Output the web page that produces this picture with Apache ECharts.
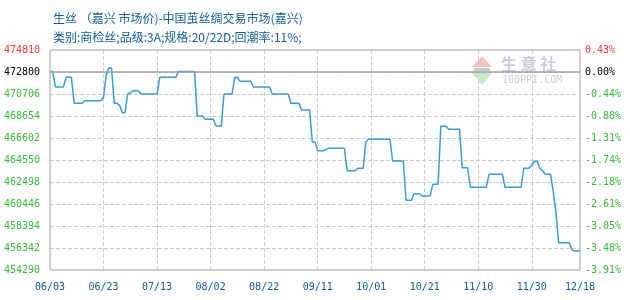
<!DOCTYPE html>
<html>
<head>
<meta charset="utf-8">
<script src="https://cdn.jsdelivr.net/npm/echarts@6/dist/echarts.min.js"></script>
<style>
html,body{margin:0;padding:0;background:#fff;}
#chart{width:630px;height:300px;}
</style>
</head>
<body>
<div id="chart"></div>
<script>
// ---- data ----
var titleLine1 = '生丝 （嘉兴 市场价)-中国茧丝绸交易市场(嘉兴)';
var titleLine2 = '类别:商检丝;品级:3A;规格:20/22D;回潮率:11%;';
var startDate = [2019, 6, 3];   // first category (month/day shown)
var dayCount = 199;              // 06/03 .. 12/18
var xTickLabels = ['06/03','06/23','07/13','08/02','08/22','09/11','10/01','10/21','11/10','11/30','12/18'];
var leftTickLabels = ['474810','472800','470706','468654','466602','464550','462498','460446','458394','456342','454290'];
var rightTickLabels = ['0.43%','0.00%','-0.44%','-0.88%','-1.31%','-1.74%','-2.18%','-2.61%','-3.05%','-3.48%','-3.91%'];
var basePrice = 472800;
var yMin = 454290, yMax = 474810, yInterval = 2052;
var prices = [
472800,472800,471360,471360,471360,471360,472260,472260,472260,469840,
469840,469840,469840,470080,470080,470080,470080,470080,470080,470080,
470400,472450,473130,473130,469840,469840,469650,468960,468960,470700,
470800,471010,471010,471010,470706,470706,470706,470706,470706,470706,
470706,472260,472260,472260,472260,472260,472260,472260,472800,472800,
472800,472800,472800,472800,472800,468654,468654,468654,468346,468346,
468346,468346,467721,467721,467721,470706,470706,470706,470706,472260,
472260,471890,471890,471890,471890,471890,471360,471360,471360,471360,
471360,471360,471360,470706,470706,470706,470706,470706,470706,470706,
469840,469840,469840,469840,469214,469214,469214,469214,466229,466229,
465417,465417,465417,465500,465641,465641,465641,465641,465641,465641,
465641,463552,463552,463552,463552,463776,463776,463776,466257,466481,
466481,466481,466481,466481,466481,466481,466481,466481,464457,464457,
464457,464457,464457,460791,460791,460791,461407,461407,461407,461192,
461192,461192,461192,462283,462283,462283,467693,467693,467693,467414,
467414,467414,467414,467414,463832,463832,463832,462010,462010,462010,
462010,462010,462010,462010,463216,463216,463216,463216,463216,463216,
462010,462010,462010,462010,462010,462010,462010,463776,463776,463776,
464084,464429,464429,463776,463552,463216,463216,463216,461600,459700,
456836,456836,456836,456836,456836,456155,456062,456062,456062
];

// ---- categories ----
var dates = [];
(function(){
  var d = new Date(startDate[0], startDate[1]-1, startDate[2]);
  for (var i = 0; i < dayCount; i++) {
    var m = d.getMonth()+1, dd = d.getDate();
    dates.push((m<10?'0':'')+m+'/'+(dd<10?'0':'')+dd);
    d.setDate(d.getDate()+1);
  }
})();

function tickIndex(v){ return 10 - Math.round((v - yMin)/yInterval); }
function showX(idx, val){ return xTickLabels.indexOf(dates[idx]) >= 0; }
function labelColor(v){
  var k = tickIndex(v);
  if (k === 0) return '#ff3333';
  if (k === 1) return '#000000';
  return '#33bb33';
}

var chart = echarts.init(document.getElementById('chart'), null, {renderer:'canvas'});
var mono = '"DejaVu Sans Mono", "Liberation Mono", monospace';
chart.setOption({
  animation:false,
  backgroundColor:'#ffffff',
  title:[
    {text:titleLine1, left:48, top:7, textStyle:{fontSize:12, fontWeight:'normal', color:'#125d94', fontFamily:'"Noto Sans CJK SC"'}},
    {text:titleLine2, left:48, top:26, textStyle:{fontSize:12, fontWeight:'normal', color:'#125d94', fontFamily:'"Noto Sans CJK SC"'}}
  ],
  grid:{left:50, right:50, top:50, bottom:30, show:true, borderColor:'#a0a0a0', borderWidth:1, backgroundColor:'#fff'},
  graphic:[
    {type:'polygon', shape:{points:[[472,67],[482,56],[492,67]]}, style:{fill:'#f5c2c2'}, z:1},
    {type:'rect', shape:{x:474,y:68,width:16,height:3}, style:{fill:'#c8c8d8'}, z:1},
    {type:'polygon', shape:{points:[[472,73],[492,73],[482,85]]}, style:{fill:'#c4ebc8'}, z:1},
    {type:'text', left:501, top:56, style:{text:'生 意 社', fill:'#c9cde2', font:'bold 16px "Noto Sans CJK SC"'}, z:1},
    {type:'text', left:502, top:75, style:{text:'100PPI.COM', fill:'#cfcfcf', font:'10px '+mono}, z:1}
  ],
  xAxis:{
    type:'category', data:dates, boundaryGap:false,
    axisLine:{show:false}, axisTick:{show:false},
    axisLabel:{interval:showX, color:'#0b5a91', fontSize:10, fontFamily:mono, margin:12, showMaxLabel:true},
    splitLine:{show:true, interval:showX, lineStyle:{color:'#cccccc', type:'dashed', width:1}}
  },
  yAxis:[
    {type:'value', min:yMin, max:yMax, interval:yInterval, position:'left',
     axisLine:{show:false}, axisTick:{show:false},
     axisLabel:{fontSize:10, fontFamily:mono, margin:10, color:labelColor,
       formatter:function(v){ return leftTickLabels[tickIndex(v)]; }},
     splitLine:{show:true, lineStyle:{color:'#cccccc', type:'dashed', width:1}}},
    {type:'value', min:yMin, max:yMax, interval:yInterval, position:'right',
     axisLine:{show:false}, axisTick:{show:false},
     axisLabel:{fontSize:10, fontFamily:mono, margin:5, color:labelColor,
       formatter:function(v){ return rightTickLabels[tickIndex(v)]; }},
     splitLine:{show:false}}
  ],
  series:[{
    type:'line', data:prices, yAxisIndex:0, showSymbol:false, symbol:'none',
    lineStyle:{color:'#3a9ad9', width:1.5}, z:3,
    markLine:{silent:true, symbol:'none', label:{show:false},
      lineStyle:{color:'#a0a0a0', type:'solid', width:1.5},
      data:[{yAxis:basePrice}]}
  }]
});
</script>
</body>
</html>
